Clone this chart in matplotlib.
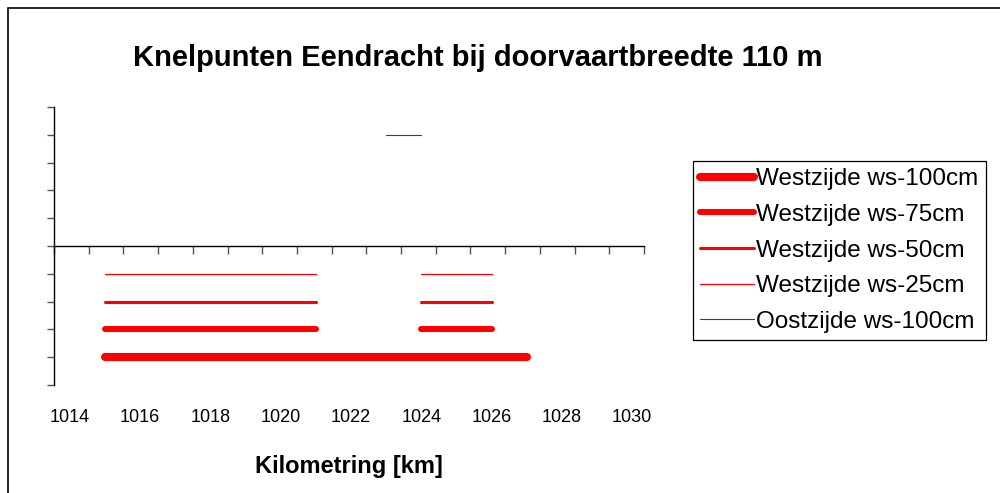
import numpy as np
import matplotlib
matplotlib.use("Agg")
import matplotlib.pyplot as plt
from matplotlib.patches import Rectangle

plt.rcParams['font.family'] = ['Liberation Sans', 'DejaVu Sans']

# ---------------- data ----------------
series_names = ["Westzijde ws-100cm", "Westzijde ws-75cm", "Westzijde ws-50cm",
                "Westzijde ws-25cm", "Oostzijde ws-100cm"]
# each series: list of (start km, end km) stretches, plotted at a fixed level
series_segments = [
    [(1015, 1027)],
    [(1015, 1021), (1024, 1026)],
    [(1015, 1021), (1024, 1026)],
    [(1015, 1021), (1024, 1026)],
    [(1023, 1024)],
]
series_levels = [-4, -3, -2, -1, 4]
series_colors = ["#ff0000", "#ff0000", "#ff0000", "#ff0000", "#333399"]
series_widths = [5.8, 4.3, 2.2, 0.9, 0.8]

tick_labels = [1014, 1016, 1018, 1020, 1022, 1024, 1026, 1028, 1030]
x_min, x_max = 1013.545, 1030.34
y_min, y_max = -5, 5

fig = plt.figure(figsize=(10, 4.93), dpi=100)
ax = fig.add_axes([0.054, 0.219, 0.59, 0.564])

for name, segs, lvl, col, lw in zip(series_names, series_segments, series_levels,
                                    series_colors, series_widths):
    xs, ys = [], []
    for a, b in segs:
        xs += [a, b, np.nan]
        ys += [lvl, lvl, np.nan]
    ax.plot(xs, ys, color=col, lw=lw, solid_capstyle='round', label=name)

ax.set_xlim(x_min, x_max)
ax.set_ylim(y_min, y_max)

# axis styling like the spreadsheet chart
for s in ["top", "right"]:
    ax.spines[s].set_visible(False)
ax.spines["bottom"].set_position(("data", 0))
ax.spines["bottom"].set_linewidth(1.0)
ax.spines["left"].set_linewidth(1.0)
ax.set_xticks(np.linspace(x_min, x_max, 18))
ax.set_yticks(np.arange(y_min, y_max + 1, 1))
ax.tick_params(axis="x", direction="out", length=6, width=1, labelbottom=False,
               color="#555555")
ax.tick_params(axis="y", direction="out", length=5, width=1, labelleft=False,
               color="#555555")

sec = ax.secondary_xaxis(0)
sec.set_xticks(tick_labels)
sec.spines["bottom"].set_visible(False)
sec.tick_params(length=0, pad=17, labelsize=13)

fig.text(0.478, 1 - 58 / 493, "Knelpunten Eendracht bij doorvaartbreedte 110 m",
         ha="center", va="center", fontsize=21, fontweight="bold")
fig.text(0.349, 1 - 466 / 493, "Kilometring [km]", ha="center", va="center",
         fontsize=17, fontweight="bold")

leg = ax.legend(loc="upper left", bbox_to_anchor=(0.693, 1 - 161 / 493),
                bbox_transform=fig.transFigure, fontsize=17.5, frameon=True,
                fancybox=False, edgecolor="black", framealpha=1,
                handlelength=2.2, handletextpad=0.1, labelspacing=0.56,
                borderpad=0.3, borderaxespad=0)
leg.get_frame().set_linewidth(0.9)

# outer chart border (right and bottom edges fall outside the picture)
fig.patches.append(Rectangle((0.008, -0.1), 1.2, 1.1 - 8 / 493, transform=fig.transFigure,
                             fill=False, edgecolor="black", lw=1.2))

fig.savefig("out.png", dpi=100)
